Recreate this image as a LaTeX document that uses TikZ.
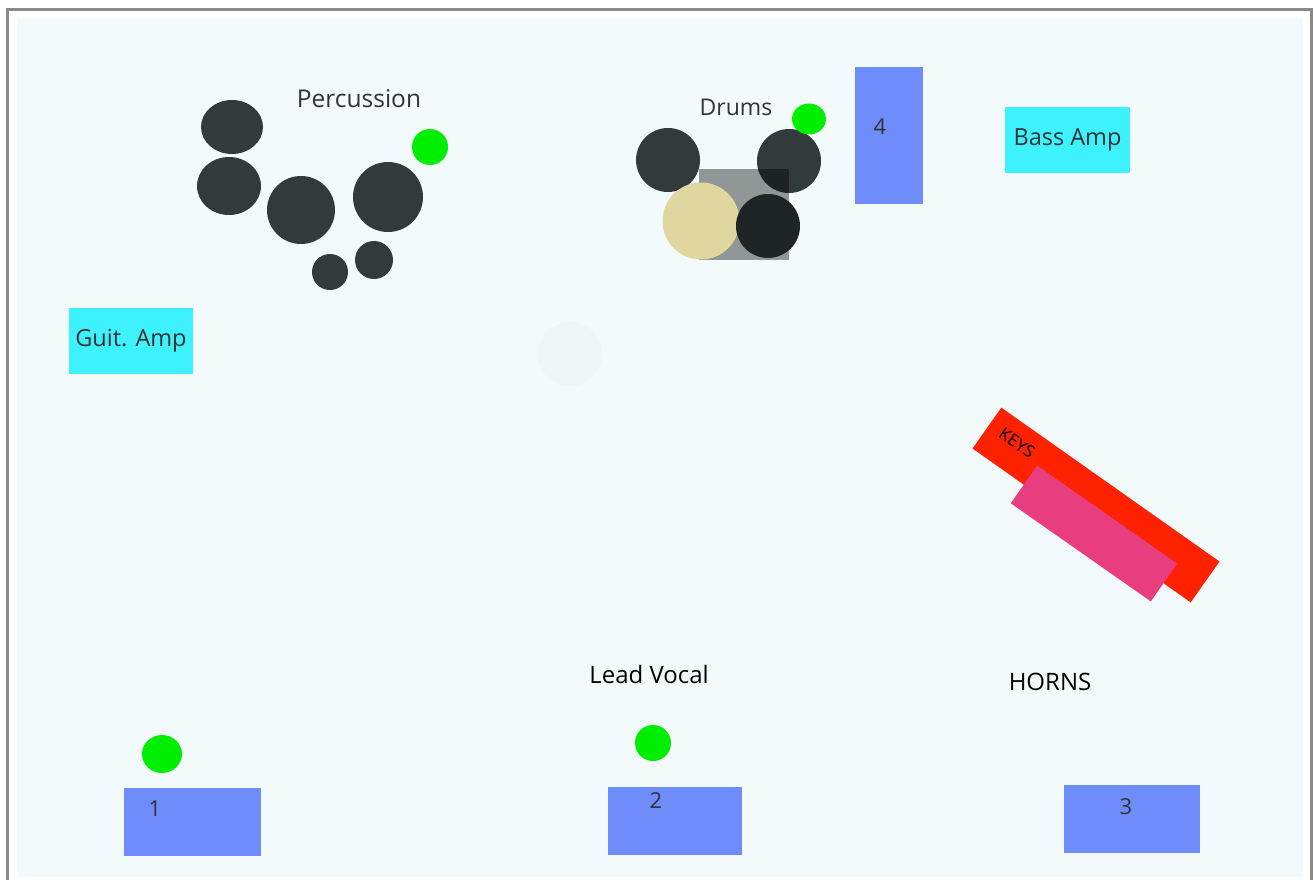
\documentclass[tikz,border=0pt]{standalone}
\usepackage{fontspec}
\setmainfont{Open Sans}
\usepackage{tikz}
\usetikzlibrary{positioning}
\definecolor{stagebg}{HTML}{F2FAFC}
\definecolor{ghost}{HTML}{EEF6F8}
\definecolor{framegray}{HTML}{8A8A8A}
\definecolor{kitdark}{HTML}{333A3B}
\definecolor{kitblack}{HTML}{1F2424}
\definecolor{cymbal}{HTML}{E0D6A0}
\definecolor{micgreen}{HTML}{00EE00}
\definecolor{wedgeblue}{HTML}{6E8CFA}
\definecolor{ampcyan}{HTML}{3DF1FD}
\definecolor{keysred}{HTML}{FF2200}
\definecolor{keyspink}{HTML}{E83E80}
\definecolor{labelgray}{HTML}{333333}

\begin{document}
\begin{tikzpicture}[x=1pt, y=-1pt,
    wedge/.style={fill=wedgeblue, inner sep=0pt},
    amp/.style={fill=ampcyan, inner sep=0pt, text=labelgray,
      font=\fontsize{23.5}{26}\selectfont},
    drum/.style={circle, fill=kitdark, inner sep=0pt},
    mic/.style={circle, fill=micgreen, inner sep=0pt},
    tag/.style={text=labelgray, inner sep=0pt},
    num/.style={text=labelgray, inner sep=0pt, font=\fontsize{22}{24}\selectfont}]
  \useasboundingbox (0,0) rectangle (1314,880);
  \clip (0,0) rectangle (1314,880);
  % stage area
  \fill[white] (0,0) rectangle (1314,880);
  \draw[framegray, line width=3pt] (7.5,9.5) rectangle (1311.5,892);
  \fill[stagebg] (17,18) rectangle (1303,877);
  \fill[ghost] (570,354) circle (32);

  % percussion
  \node[tag, font=\fontsize{24.5}{27}\selectfont] (perclabel) at (359,98.5) {Percussion};
  \fill[kitdark] (232,127) ellipse (31 and 27);
  \fill[kitdark] (229,186) ellipse (32 and 29);
  \node[drum, minimum size=68pt] (perc3) at (301,210) {};
  \node[drum, minimum size=70pt] (perc4) at (388,197) {};
  \node[drum, minimum size=36pt] (perc5) at (330,272) {};
  \node[drum, minimum size=38pt] (perc6) at (374,260) {};
  \node[mic, minimum size=36pt] (percmic) at (430,147) {};

  % drum kit
  \node[tag, font=\fontsize{23}{26}\selectfont] (drumlabel) at (736,107.5) {Drums};
  \node[drum, minimum size=64pt] (tomleft) at (668,160) {};
  \node[drum, minimum size=64pt] (tomright) at (789,161) {};
  \fill[black, opacity=0.4] (699,169) rectangle (789,260);
  \node[circle, fill=cymbal, inner sep=0pt, minimum size=77pt] (cymbal) at (701,221) {};
  \node[circle, fill=kitblack, inner sep=0pt, minimum size=64pt] (snare) at (768,226) {};
  \fill[micgreen] (809,119) ellipse (17 and 15.5);

  % monitors
  \node[wedge, minimum width=68pt, minimum height=137pt] (wedge4) at (889,135.5) {};
  \node[num] at (880,127) {4};
  \node[wedge, minimum width=137pt, minimum height=68pt] (wedge1) at (192.5,822) {};
  \node[num] at (155,809) {1};
  \node[wedge, minimum width=134pt, minimum height=68pt] (wedge2) at (675,821) {};
  \node[num] at (656,801) {2};
  \node[wedge, minimum width=136pt, minimum height=68pt] (wedge3) at (1132,819) {};
  \node[num] at (1126,807) {3};

  % amps
  \node[amp, minimum width=125pt, minimum height=66pt] (bassamp) at (1067.5,140) {\raisebox{-2pt}{Bass Amp}};
  \node[amp, minimum width=124pt, minimum height=66pt] (guitamp) at (131,341) {\raisebox{-2pt}{Guit. Amp}};

  % keys
  \node[fill=keysred, inner sep=0pt, minimum width=267pt, minimum height=50pt,
    rotate=-35.2] (keys) at (1096,505) {};
  \node[fill=keyspink, inner sep=0pt, minimum width=171pt, minimum height=46pt,
    rotate=-35] (keysstand) at (1094,533.5) {};
  \node[inner sep=0pt, rotate=-35, font=\fontsize{17}{19}\selectfont] (keyslabel)
    at (1017,443) {KEYS};

  % front line
  \node[inner sep=0pt, font=\fontsize{24}{27}\selectfont] (vocallabel) at (649,674) {Lead Vocal};
  \node[inner sep=0pt, font=\fontsize{24}{27}\selectfont] (hornslabel) at (1050,682) {HORNS};
  \fill[micgreen] (162,754) ellipse (20 and 19);
  \node[mic, minimum size=36pt] (vocalmic) at (653,743) {};
\end{tikzpicture}
\end{document}
